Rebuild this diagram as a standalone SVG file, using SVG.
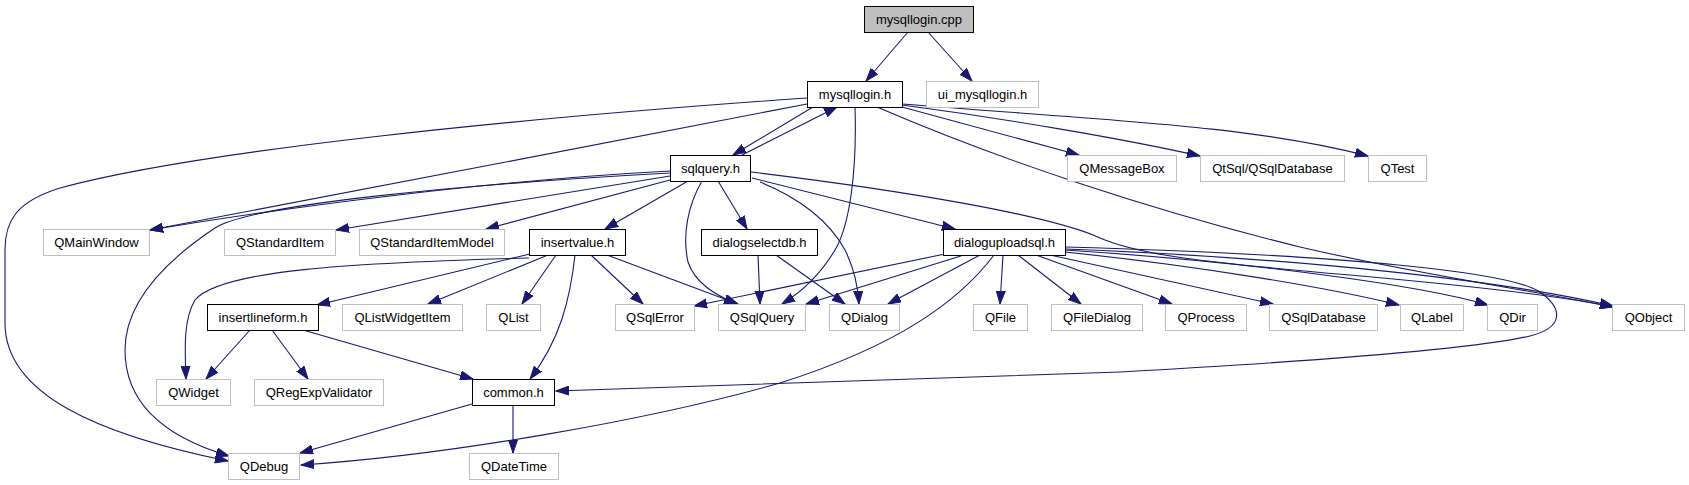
<svg xmlns="http://www.w3.org/2000/svg" width="1689" height="485" viewBox="0 0 1689 485">
<style>
.node rect{fill:#ffffff;stroke:#000000;stroke-width:1}
.node.ext rect{stroke:#bfbfbf}
.node.root rect{fill:#bfbfbf}
.node text{font-family:"Liberation Sans",Arial,sans-serif;font-size:13px;text-anchor:middle;fill:#000000}
#edges path{fill:none;stroke:#191970;stroke-width:1.1;marker-end:url(#arr)}
</style>
<defs>
<marker id="arr" markerUnits="userSpaceOnUse" markerWidth="14" markerHeight="10" viewBox="0 0 14 10" refX="13" refY="5" orient="auto">
<path d="M0,0.5 L13,5 L0,9.5 z" fill="#191970" stroke="#191970" stroke-width="1"/>
</marker>
</defs>
<rect width="1689" height="485" fill="#ffffff"/>
<g id="edges">
<path d="M908,32 L866,81"/>
<path d="M928,32 L972,81"/>
<path d="M813,107 L733,155"/>
<path d="M742,155 L837,107"/>
<path d="M807,98 C520,118 200,150 60,188 C15,202 5,222 5,250 L5,323 C5,395 100,435 228,461"/>
<path d="M807,104 C600,144 350,192 150,230"/>
<path d="M855,107 C857,170 850,225 835,250 C820,275 800,293 782,304"/>
<path d="M902,107 L1079,155"/>
<path d="M902,105 C1000,118 1120,138 1200,156"/>
<path d="M902,104 C1100,120 1250,125 1368,156"/>
<path d="M877,107 C1000,160 1150,210 1300,247 C1420,275 1530,290 1613,307"/>
<path d="M670,171 C500,180 300,205 150,230"/>
<path d="M670,173 C450,185 250,205 215,228 C170,258 125,300 125,350 C125,410 175,440 229,456"/>
<path d="M670,176 L336,230"/>
<path d="M670,180 L486,229"/>
<path d="M688,181 L605,229"/>
<path d="M702,181 C688,205 682,235 688,262 C695,283 715,295 737,304"/>
<path d="M718,181 L747,229"/>
<path d="M760,182 C800,198 830,222 845,250 C855,270 858,288 859,304"/>
<path d="M752,178 L955,229"/>
<path d="M751,172 C900,190 1050,215 1100,238 C1140,255 1200,262 1350,275 C1450,284 1560,295 1613,307"/>
<path d="M530,254 L317,305"/>
<path d="M529,258 C350,263 220,270 195,300 C183,320 185,350 186,379"/>
<path d="M548,255 L428,304"/>
<path d="M556,255 L522,304"/>
<path d="M575,255 C570,300 560,340 530,379"/>
<path d="M591,255 L643,304"/>
<path d="M607,255 L738,304"/>
<path d="M758,255 L760,304"/>
<path d="M776,255 L845,304"/>
<path d="M945,254 L694,306"/>
<path d="M964,255 L806,304"/>
<path d="M980,255 L888,304"/>
<path d="M994,255 C960,300 900,345 780,383 C650,420 450,455 301,465"/>
<path d="M1003,255 L1000,304"/>
<path d="M1018,255 L1081,304"/>
<path d="M1036,255 L1172,304"/>
<path d="M1050,255 L1273,304"/>
<path d="M1065,252 C1200,266 1330,288 1399,305"/>
<path d="M1065,250 C1250,262 1420,285 1488,305"/>
<path d="M1065,249 C1300,258 1500,280 1613,306"/>
<path d="M1065,247 C1350,255 1510,272 1540,292 C1565,310 1562,328 1530,336 C1470,350 1300,362 1120,372 L556,391"/>
<path d="M250,330 L206,379"/>
<path d="M272,330 L308,379"/>
<path d="M303,330 L473,379"/>
<path d="M472,404 L300,453"/>
<path d="M513,404 L513,453"/>
</g>
<g id="n_cpp" class="node root"><rect x="864.5" y="6.5" width="109" height="26"/><text x="919" y="24">mysqllogin.cpp</text></g>
<g id="n_mh" class="node"><rect x="807.5" y="81.5" width="95" height="26"/><text x="855" y="99">mysqllogin.h</text></g>
<g id="n_ui" class="node ext"><rect x="926.5" y="81.5" width="112" height="26"/><text x="982.5" y="99">ui_mysqllogin.h</text></g>
<g id="n_sq" class="node"><rect x="670.5" y="155.5" width="80" height="26"/><text x="710.5" y="173">sqlquery.h</text></g>
<g id="n_qmb" class="node ext"><rect x="1067.5" y="155.5" width="109" height="26"/><text x="1122" y="173">QMessageBox</text></g>
<g id="n_qtsql" class="node ext"><rect x="1200.5" y="155.5" width="144" height="26"/><text x="1272.5" y="173">QtSql/QSqlDatabase</text></g>
<g id="n_qtest" class="node ext"><rect x="1368.5" y="155.5" width="58" height="26"/><text x="1397.5" y="173">QTest</text></g>
<g id="n_qmw" class="node ext"><rect x="43.5" y="229.5" width="106" height="26"/><text x="96.5" y="247">QMainWindow</text></g>
<g id="n_qsi" class="node ext"><rect x="224.5" y="229.5" width="111" height="26"/><text x="280" y="247">QStandardItem</text></g>
<g id="n_qsim" class="node ext"><rect x="359.5" y="229.5" width="145" height="26"/><text x="432" y="247">QStandardItemModel</text></g>
<g id="n_iv" class="node"><rect x="529.5" y="229.5" width="96" height="26"/><text x="577.5" y="247">insertvalue.h</text></g>
<g id="n_dsdb" class="node"><rect x="701.5" y="229.5" width="116" height="26"/><text x="759.5" y="247">dialogselectdb.h</text></g>
<g id="n_dus" class="node"><rect x="943.5" y="229.5" width="122" height="26"/><text x="1004.5" y="247">dialoguploadsql.h</text></g>
<g id="n_ilf" class="node"><rect x="207.5" y="304.5" width="111" height="26"/><text x="263" y="322">insertlineform.h</text></g>
<g id="n_qlwi" class="node ext"><rect x="342.5" y="304.5" width="120" height="26"/><text x="402.5" y="322">QListWidgetItem</text></g>
<g id="n_qlist" class="node ext"><rect x="486.5" y="304.5" width="54" height="26"/><text x="513.5" y="322">QList</text></g>
<g id="n_qse" class="node ext"><rect x="615.5" y="304.5" width="79" height="26"/><text x="655" y="322">QSqlError</text></g>
<g id="n_qsq" class="node ext"><rect x="718.5" y="304.5" width="87" height="26"/><text x="762" y="322">QSqlQuery</text></g>
<g id="n_qdlg" class="node ext"><rect x="829.5" y="304.5" width="70" height="26"/><text x="864.5" y="322">QDialog</text></g>
<g id="n_qfile" class="node ext"><rect x="973.5" y="304.5" width="54" height="26"/><text x="1000.5" y="322">QFile</text></g>
<g id="n_qfd" class="node ext"><rect x="1051.5" y="304.5" width="91" height="26"/><text x="1097" y="322">QFileDialog</text></g>
<g id="n_qproc" class="node ext"><rect x="1165.5" y="304.5" width="81" height="26"/><text x="1206" y="322">QProcess</text></g>
<g id="n_qsdb" class="node ext"><rect x="1269.5" y="304.5" width="108" height="26"/><text x="1323.5" y="322">QSqlDatabase</text></g>
<g id="n_qlabel" class="node ext"><rect x="1400.5" y="304.5" width="63" height="26"/><text x="1432" y="322">QLabel</text></g>
<g id="n_qdir" class="node ext"><rect x="1487.5" y="304.5" width="50" height="26"/><text x="1512.5" y="322">QDir</text></g>
<g id="n_qobj" class="node ext"><rect x="1612.5" y="304.5" width="72" height="26"/><text x="1648.5" y="322">QObject</text></g>
<g id="n_qw" class="node ext"><rect x="156.5" y="379.5" width="74" height="26"/><text x="193.5" y="397">QWidget</text></g>
<g id="n_qrev" class="node ext"><rect x="254.5" y="379.5" width="129" height="26"/><text x="319" y="397">QRegExpValidator</text></g>
<g id="n_common" class="node"><rect x="472.5" y="379.5" width="82" height="26"/><text x="513.5" y="397">common.h</text></g>
<g id="n_qdebug" class="node ext"><rect x="228.5" y="453.5" width="71" height="26"/><text x="264" y="471">QDebug</text></g>
<g id="n_qdt" class="node ext"><rect x="469.5" y="453.5" width="89" height="26"/><text x="514" y="471">QDateTime</text></g>
</svg>
